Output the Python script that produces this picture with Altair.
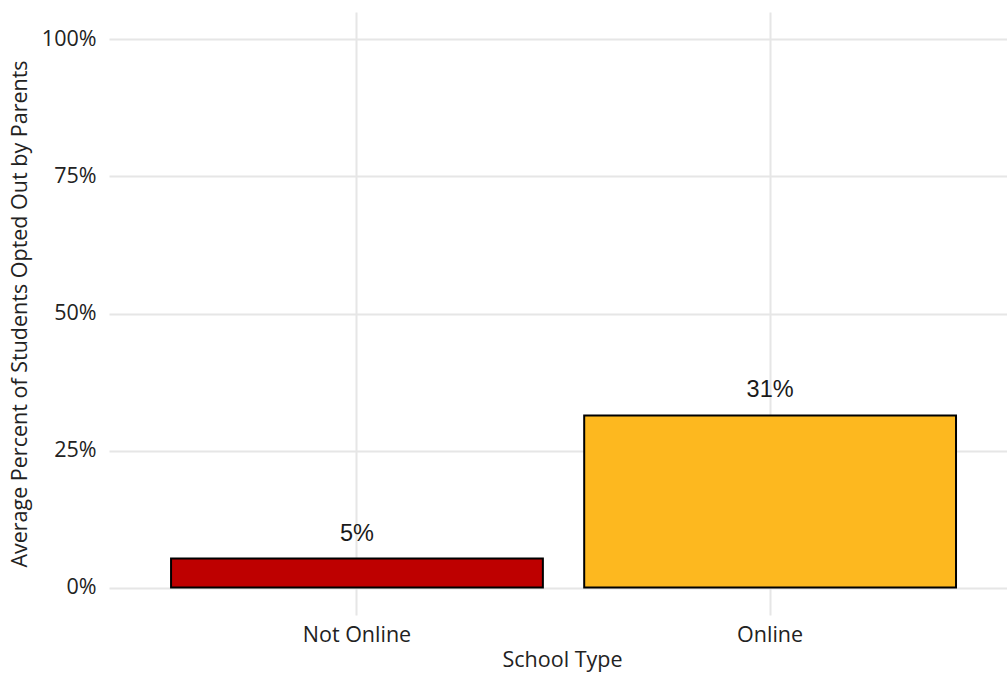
import altair as alt
import pandas as pd

# Average share of students opted out by parents, by school type
school_types = ["Not Online", "Online"]
opt_out_share = [0.053, 0.314]

bar_colors = ["#BE0000", "#FDB81F"]

df = pd.DataFrame({"school_type": school_types, "share": opt_out_share})

axis_font = "Open Sans"
text_color = "#222222"
grid_color = "#E6E6E6"

x = alt.X(
    "school_type:N",
    title="School Type",
    sort=school_types,
    scale=alt.Scale(paddingInner=0.1, paddingOuter=0.1368, align=0.549),
    axis=alt.Axis(
        labelAngle=0,
        domain=False,
        ticks=False,
        grid=True,
        bandPosition=0.5,
        gridColor=grid_color,
        gridWidth=2,
        labelFont=axis_font,
        labelFontSize=21.5,
        labelColor=text_color,
        labelPadding=9,
        titleFont=axis_font,
        titleFontSize=21.5,
        titleFontWeight="normal",
        titleColor=text_color,
        titlePadding=4,
        titleX=453,
    ),
)

y = alt.Y(
    "share:Q",
    title="Average Percent of Students Opted Out by Parents",
    scale=alt.Scale(domain=[-0.05, 1.05], nice=False, zero=False),
    axis=alt.Axis(
        values=[0, 0.25, 0.5, 0.75, 1.0],
        format=".0%",
        domain=False,
        ticks=False,
        grid=True,
        gridColor=grid_color,
        gridWidth=2,
        labelFont=axis_font,
        labelFontSize=21.5,
        labelColor=text_color,
        labelPadding=13,
        titleFont=axis_font,
        titleFontSize=21.5,
        titleFontWeight="normal",
        titleColor=text_color,
        titlePadding=10,
    ),
)

bars = alt.Chart(df).mark_bar(stroke="black", strokeWidth=2).encode(
    x=x,
    y=y,
    color=alt.Color(
        "school_type:N",
        scale=alt.Scale(domain=school_types, range=bar_colors),
        legend=None,
    ),
)

labels = alt.Chart(df).mark_text(
    font="Liberation Sans",
    fontSize=23.5,
    color="#1A1A1A",
    dy=-18,
    baseline="alphabetic",
).encode(
    x=alt.X("school_type:N", sort=school_types),
    y=alt.Y("share:Q"),
    text=alt.Text("share:Q", format=".0%"),
)

chart = (
    alt.layer(bars, labels)
    .properties(
        width=898,
        height=603,
        autosize=alt.AutoSizeParams(type="none"),
        padding={"left": 109, "top": 12, "right": 0, "bottom": 58},
        background="white",
    )
    .configure_view(stroke=None)
)

chart.save("out.html", embed_options={"renderer": "svg", "actions": False})
